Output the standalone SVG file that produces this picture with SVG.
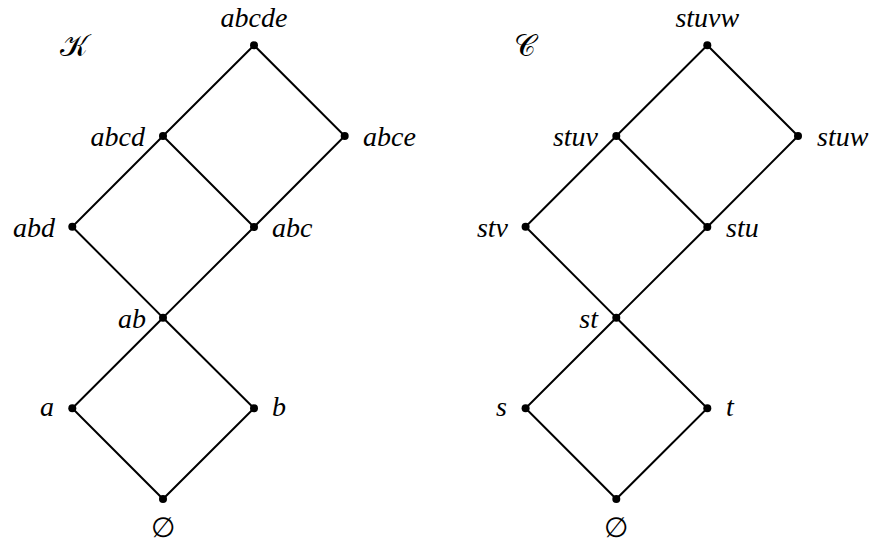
<svg xmlns="http://www.w3.org/2000/svg" width="880" height="547" viewBox="0 0 880 547">
<style>
.e{stroke:#000;stroke-width:2;fill:none}
.d{fill:#000}
</style>
<rect width="880" height="547" fill="#fff"/>
<g font-family="Liberation Serif, DejaVu Serif, serif" font-style="italic" font-size="28" fill="#000">
<text x="60" y="56" font-size="30" font-family="DejaVu Serif, serif" font-style="normal">𝒦</text>
<text x="514" y="56" font-size="30" font-family="DejaVu Serif, serif" font-style="normal">𝒞</text>
<g id="edges">
<path class="e" d="M254,45.3 L163,136 L72.3,226.7 L163,317.7 L254,227 L344.7,136 L254,45.3 M163,136 L254,227 M163,317.7 L72.3,408.3 L163,499 L254,408.3 L163,317.7"/>
<path class="e" d="M707.3,45.3 L616.3,136 L525.6,226.7 L616.3,317.7 L707.3,227 L798,136 L707.3,45.3 M616.3,136 L707.3,227 M616.3,317.7 L525.6,408.3 L616.3,499 L707.3,408.3 L616.3,317.7"/>
</g>
<g id="abcde"><circle class="d" cx="254" cy="45.3" r="4"/><text text-anchor="middle" x="254" y="27">abcde</text></g>
<g id="abcd"><circle class="d" cx="163" cy="136" r="4"/><text text-anchor="end" x="145" y="146">abcd</text></g>
<g id="abce"><circle class="d" cx="344.7" cy="136" r="4"/><text x="363" y="146">abce</text></g>
<g id="abd"><circle class="d" cx="72.3" cy="226.7" r="4"/><text text-anchor="end" x="55" y="237">abd</text></g>
<g id="abc"><circle class="d" cx="254" cy="227" r="4"/><text x="272" y="237">abc</text></g>
<g id="ab"><circle class="d" cx="163" cy="317.7" r="4"/><text text-anchor="end" x="146" y="328">ab</text></g>
<g id="a"><circle class="d" cx="72.3" cy="408.3" r="4"/><text text-anchor="end" x="54" y="416">a</text></g>
<g id="b"><circle class="d" cx="254" cy="408.3" r="4"/><text x="272" y="416">b</text></g>
<g id="empty1"><circle class="d" cx="163" cy="499" r="4"/><text text-anchor="middle" font-style="normal" x="163" y="537">∅</text></g>
<g id="stuvw"><circle class="d" cx="707.3" cy="45.3" r="4"/><text text-anchor="middle" x="707.3" y="27">stuvw</text></g>
<g id="stuv"><circle class="d" cx="616.3" cy="136" r="4"/><text text-anchor="end" x="598" y="146">stuv</text></g>
<g id="stuw"><circle class="d" cx="798" cy="136" r="4"/><text x="817" y="146">stuw</text></g>
<g id="stv"><circle class="d" cx="525.6" cy="226.7" r="4"/><text text-anchor="end" x="508" y="237">stv</text></g>
<g id="stu"><circle class="d" cx="707.3" cy="227" r="4"/><text x="726" y="237">stu</text></g>
<g id="st"><circle class="d" cx="616.3" cy="317.7" r="4"/><text text-anchor="end" x="598" y="328">st</text></g>
<g id="s"><circle class="d" cx="525.6" cy="408.3" r="4"/><text text-anchor="end" x="507" y="416">s</text></g>
<g id="t"><circle class="d" cx="707.3" cy="408.3" r="4"/><text x="726" y="416">t</text></g>
<g id="empty2"><circle class="d" cx="616.3" cy="499" r="4"/><text text-anchor="middle" font-style="normal" x="616.3" y="537">∅</text></g>
</g>
</svg>
